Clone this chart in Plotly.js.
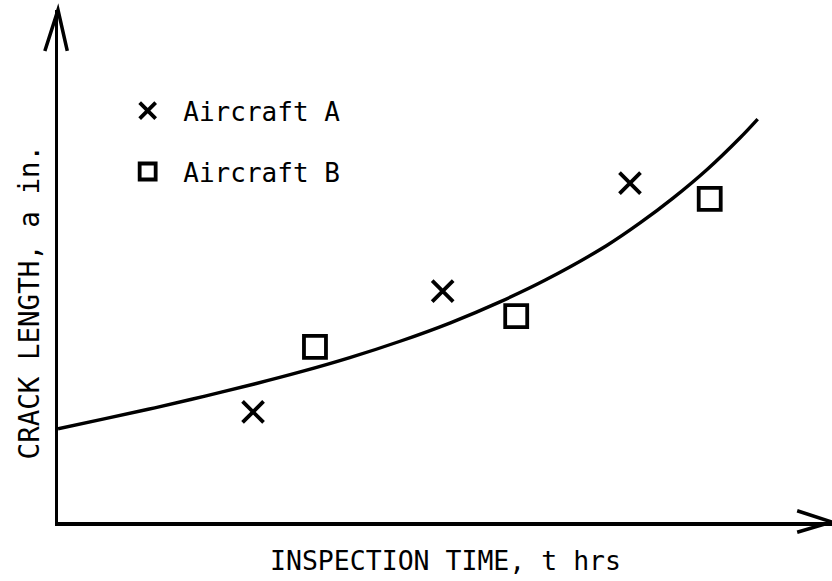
<!DOCTYPE html>
<html>
<head>
<meta charset="utf-8">
<script src="https://cdn.plot.ly/plotly-3.0.1.min.js"></script>
<style>html,body{margin:0;padding:0;background:#fff;}#chart{width:832px;height:581px;}</style>
</head>
<body>
<div id="chart"></div>
<script>
// Aircraft A inspections (x marks)
const aircraftA_t = [25.2, 49.7, 73.9];
const aircraftA_a = [21.5, 45.1, 66.2];
// Aircraft B inspections (squares)
const aircraftB_t = [33.2, 59.2, 84.2];
const aircraftB_a = [34.2, 40.2, 63.1];
// Fitted crack growth curve
const curve_t = [0, 6.1, 12.5, 19.0, 25.5, 31.3, 37.7, 44.2, 50.7, 57.1, 62.9, 70.9, 75.2, 79.5, 83.9, 88.1, 90.4];
const curve_a = [18.2, 20.2, 22.3, 24.6, 27.0, 29.3, 32.1, 35.3, 38.9, 43.0, 47.2, 54.0, 58.4, 63.3, 68.9, 75.0, 78.7];

const seriesNames = [' Aircraft A', ' Aircraft B'];
const xTitle = 'INSPECTION TIME, t hrs';
const yTitle = 'CRACK LENGTH, a in.';

const FONT = 'DejaVu Sans Mono, monospace';

const traces = [
  {x: curve_t, y: curve_a, mode: 'lines', line: {color: '#000', width: 3.4, shape: 'spline', smoothing: 1}, showlegend: false, hoverinfo: 'skip'},
  {x: aircraftA_t, y: aircraftA_a, mode: 'markers', name: seriesNames[0], legendgroup: 'a',
   marker: {symbol: 'x-thin-open', size: 21, color: '#000', line: {color: '#000', width: 3.8}}},
  {x: aircraftB_t, y: aircraftB_a, mode: 'markers', name: seriesNames[1], legendgroup: 'b',
   marker: {symbol: 'square-open', size: 22, color: '#000', line: {color: '#000', width: 3.8}}}
];

const layout = {
  width: 832, height: 581,
  margin: {l: 58, r: 0, t: 10, b: 59},
  paper_bgcolor: '#fff', plot_bgcolor: '#fff',
  font: {family: FONT, color: '#000', size: 26},
  xaxis: {range: [0, 100], showgrid: false, zeroline: false, showticklabels: false, ticks: '',
          showline: true, linecolor: '#000', linewidth: 3.5, fixedrange: true},
  yaxis: {range: [0, 100], showgrid: false, zeroline: false, showticklabels: false, ticks: '',
          showline: true, linecolor: '#000', linewidth: 3.5, fixedrange: true},
  showlegend: true,
  legend: {x: 0.09, y: 0.849, xanchor: 'left', yanchor: 'top', bgcolor: 'rgba(0,0,0,0)',
           font: {family: FONT, size: 26, color: '#000'}, tracegroupgap: 24, itemsizing: 'trace'},
  shapes: [
    {type: 'path', xref: 'paper', yref: 'paper', path: 'M -0.017,0.92 L 0,1 L 0.012,0.92', line: {color: '#000', width: 3.5}},
    {type: 'path', xref: 'paper', yref: 'paper', path: 'M 0.955,0.022 L 1,0 L 0.955,-0.02', line: {color: '#000', width: 3.5}}
  ],
  annotations: [
    {text: xTitle, xref: 'paper', yref: 'paper', x: 0.5, y: -0.075, xanchor: 'center', yanchor: 'middle', showarrow: false,
     font: {family: FONT, size: 26.5, color: '#000'}},
    {text: yTitle, xref: 'paper', yref: 'paper', x: -0.038, y: 0.43, xanchor: 'center', yanchor: 'middle', showarrow: false, textangle: -90,
     font: {family: FONT, size: 27.5, color: '#000'}}
  ]
};

Plotly.newPlot('chart', traces, layout, {staticPlot: true, displayModeBar: false});
</script>
</body>
</html>
